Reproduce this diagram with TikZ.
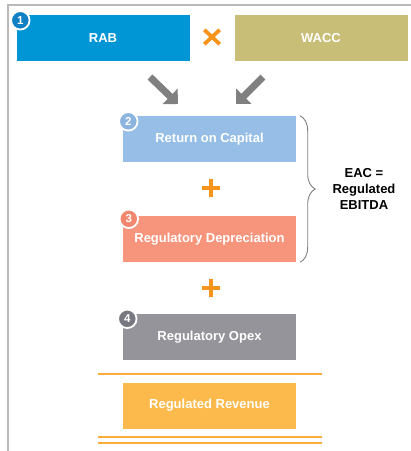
\documentclass[tikz,border=0pt]{standalone}
\usepackage{fontspec}
\setmainfont{Liberation Sans}
\usepackage{tikz}
\usetikzlibrary{positioning,arrows.meta,decorations.pathreplacing}
\definecolor{rabblue}{RGB}{0,150,214}
\definecolor{rabbadge}{RGB}{16,128,196}
\definecolor{wacckhaki}{RGB}{200,190,120}
\definecolor{roclight}{RGB}{150,190,230}
\definecolor{rocbadge}{RGB}{140,180,225}
\definecolor{depsalmon}{RGB}{247,148,124}
\definecolor{depbadge}{RGB}{240,135,110}
\definecolor{opexgrey}{RGB}{148,148,154}
\definecolor{opexbadge}{RGB}{120,120,128}
\definecolor{revyellow}{RGB}{253,186,76}
\definecolor{signorange}{RGB}{247,148,29}
\definecolor{lineorange}{RGB}{250,172,60}
\definecolor{framegrey}{RGB}{185,185,185}
\definecolor{arrowgrey}{RGB}{128,128,128}
\tikzset{
  box/.style={rectangle, minimum width=173pt, minimum height=46pt, inner sep=0pt,
              text=white, font=\fontsize{13}{15}\selectfont\bfseries},
  badge/.style={circle, draw=white, line width=1.8pt, minimum size=18.5pt, inner sep=0pt,
                text=white, font=\fontsize{11.5}{12}\selectfont\bfseries},
  sign/.style={minimum size=15pt, inner sep=0pt},
  bigarrow/.style={draw=arrowgrey, line width=7pt, -{Triangle[length=11pt,width=21pt]}},
  totalline/.style={draw=lineorange, line width=1.5pt},
}
\begin{document}
\begin{tikzpicture}[x=1pt, y=-1pt]
  \useasboundingbox (0,0) rectangle (411,451);
  % frame
  \draw[framegrey, line width=1.5pt] (8,451) -- (8,5) -- (411,5);

  \node[box, fill=rabblue] (rab) at (103,38) {RAB};
  \node[box, fill=wacckhaki] (wacc) at (321,38) {WACC};
  \node[box, fill=roclight] (roc) at (209.5,139) {Return on Capital};
  \node[box, fill=depsalmon] (dep) at (209.5,239) {Regulatory Depreciation};
  \node[box, fill=opexgrey] (opex) at (209.5,337) {Regulatory Opex};
  \node[box, fill=revyellow] (rev) at (209.5,405.5) {Regulated Revenue};

  \node[badge, fill=rabbadge] at ([shift={(4,5.5)}]rab.north west) {1};
  \node[badge, fill=rocbadge] at ([shift={(5.5,5.5)}]roc.north west) {2};
  \node[badge, fill=depbadge] at ([shift={(6,3)}]dep.north west) {3};
  \node[badge, fill=opexbadge] at ([shift={(4.5,5)}]opex.north west) {4};

  % operators
  \node[sign, minimum width=15pt, minimum height=14pt] (times) at (212,37) {};
  \draw[signorange, line width=3.8pt] (times.north west) -- (times.south east);
  \draw[signorange, line width=3.8pt] (times.south west) -- (times.north east);
  \node[sign, minimum size=17pt] (plusA) at (211,188) {};
  \draw[signorange, line width=4.5pt] (plusA.north) -- (plusA.south);
  \draw[signorange, line width=4.5pt] (plusA.west) -- (plusA.east);
  \node[sign, minimum size=17pt] (plusB) at (211,288) {};
  \draw[signorange, line width=4.5pt] (plusB.north) -- (plusB.south);
  \draw[signorange, line width=4.5pt] (plusB.west) -- (plusB.east);

  % arrows into return on capital
  \coordinate (leftTail) at (150,77);
  \coordinate (leftTip) at (178,104);
  \coordinate (rightTail) at (263,77);
  \coordinate (rightTip) at (236,104);
  \draw[bigarrow] (leftTail) -- (leftTip);
  \draw[bigarrow] (rightTail) -- (rightTip);

  % brace
  \draw[arrowgrey, line width=0.9pt, decorate, decoration={brace, amplitude=15pt}]
    ([xshift=4pt]roc.north east) -- ([xshift=4pt]dep.south east);
  \node[align=center, font=\fontsize{13}{16}\selectfont\bfseries] (eac) at (364,189)
    {EAC =\\Regulated\\EBITDA};

  % totals lines
  \draw[totalline] (98,374) -- (322,374);
  \draw[totalline] (98,437) -- (322,437);
  \draw[totalline] (98,443) -- (322,443);
\end{tikzpicture}
\end{document}
